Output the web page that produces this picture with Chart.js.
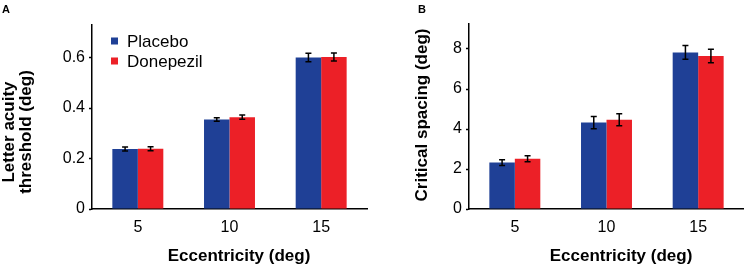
<!DOCTYPE html>
<html>
<head>
<meta charset="utf-8">
<script src="https://cdn.jsdelivr.net/npm/chart.js@4.4.1/dist/chart.umd.min.js"></script>
<style>
  body { margin: 0; background: #fff; }
  #wrap { display: flex; width: 744px; height: 265px; }
  canvas { display: block; }
</style>
</head>
<body>
<div id="wrap">
  <canvas id="chartA" width="372" height="265"></canvas>
  <canvas id="chartB" width="372" height="265"></canvas>
</div>
<script>
/* Data. */
const eccentricity = ["5", "10", "15"]
const seriesNames = ["Placebo", "Donepezil"]

const acuityPlacebo = [0.238, 0.355, 0.600]
const acuityPlaceboErr = [0.008, 0.007, 0.017]
const acuityDonepezil = [0.239, 0.364, 0.602]
const acuityDonepezilErr = [0.008, 0.008, 0.016]

const spacingPlacebo = [2.32, 4.32, 7.83]
const spacingPlaceboErr = [0.14, 0.31, 0.34]
const spacingDonepezil = [2.51, 4.46, 7.65]
const spacingDonepezilErr = [0.15, 0.30, 0.34]

const acuityTicks = [0, 0.2, 0.4, 0.6]
const spacingTicks = [0, 2, 4, 6, 8]

const blue = "rgb(31, 64, 150)"
const red = "rgb(236, 32, 39)"
const fontName = "'Liberation Sans', Arial, Helvetica, sans-serif"

/* Draws error bars, legend, axis titles and panel letter. */
const extrasPlugin = {
  id: "extras",
  afterDatasetsDraw(chart, args, opts) {
    const ctx = chart.ctx
    const yScale = chart.scales.y
    ctx.save()
    ctx.strokeStyle = "#000"
    ctx.lineWidth = 1.5
    chart.data.datasets.forEach((ds, i) => {
      const meta = chart.getDatasetMeta(i)
      meta.data.forEach((bar, j) => {
        const v = ds.data[j]
        const e = ds.errors[j]
        const yTop = yScale.getPixelForValue(v + e)
        const yBot = yScale.getPixelForValue(v - e)
        ctx.beginPath()
        ctx.moveTo(bar.x, yTop)
        ctx.lineTo(bar.x, yBot)
        ctx.moveTo(bar.x - 3, yTop)
        ctx.lineTo(bar.x + 3, yTop)
        ctx.moveTo(bar.x - 3, yBot)
        ctx.lineTo(bar.x + 3, yBot)
        ctx.stroke()
      })
    })
    ctx.restore()
  },
  afterDraw(chart, args, opts) {
    const ctx = chart.ctx
    ctx.save()
    ctx.fillStyle = "#000"

    /* Legend. */
    ctx.font = "17px " + fontName
    ctx.textBaseline = "middle"
    ctx.textAlign = "left"
    chart.data.datasets.forEach((ds, i) => {
      const y = opts.legendY + i * 20
      ctx.fillStyle = ds.backgroundColor
      ctx.fillRect(opts.legendX, y - 3.5, 7, 7)
      ctx.fillStyle = "#000"
      ctx.fillText(ds.label, opts.legendX + 16, y + 1)
    })

    /* Panel letter. */
    ctx.font = "bold 11px " + fontName
    ctx.textBaseline = "alphabetic"
    ctx.fillText(opts.letter, opts.letterX, 13)

    /* X axis title. */
    ctx.font = "bold 17px " + fontName
    ctx.textAlign = "center"
    ctx.fillText("Eccentricity (deg)", opts.xTitleX, 261)

    /* Y axis title. */
    ctx.translate(opts.yTitleX, opts.yTitleY)
    ctx.rotate(-Math.PI / 2)
    ctx.textBaseline = "middle"
    const n = opts.yTitle.length
    opts.yTitle.forEach((line, i) => {
      ctx.fillText(line, 0, (i - (n - 1) / 2) * 17)
    })
    ctx.restore()
  }
}

const makeChart = (id, cfg) => {
  const ctx = document.getElementById(id).getContext("2d")
  return new Chart(ctx, {
    type: "bar",
    data: {
      labels: eccentricity,
      datasets: [{
        label: seriesNames[0],
        data: cfg.placebo,
        errors: cfg.placeboErr,
        backgroundColor: blue,
        borderWidth: 0
      }, {
        label: seriesNames[1],
        data: cfg.donepezil,
        errors: cfg.donepezilErr,
        backgroundColor: red,
        borderWidth: 0
      }]
    },
    options: {
      responsive: false,
      animation: false,
      categoryPercentage: 0.556,
      barPercentage: 1,
      layout: {
        padding: { top: cfg.top, right: cfg.right, left: 0, bottom: 0 }
      },
      scales: {
        x: {
          grid: { display: false, drawTicks: false },
          border: { display: true, color: "#000", width: 1.5 },
          ticks: {
            color: "#000",
            padding: 9,
            font: { family: fontName, size: 16 }
          },
          afterFit: scale => { scale.height = 56 }
        },
        y: {
          min: 0,
          max: cfg.max,
          grid: {
            drawOnChartArea: false,
            drawTicks: true,
            tickLength: 3,
            color: "#000",
            tickWidth: 1.5
          },
          border: { display: true, color: "#000", width: 1.5 },
          afterBuildTicks: scale => {
            scale.ticks = cfg.ticks.map(v => ({ value: v }))
          },
          ticks: {
            color: "#000",
            padding: 4,
            font: { family: fontName, size: 16 },
            callback: v => cfg.format(v)
          },
          afterFit: scale => { scale.width = cfg.left }
        }
      },
      plugins: {
        legend: { display: false },
        tooltip: { enabled: false },
        extras: cfg.extras
      }
    },
    plugins: [extrasPlugin]
  })
}

makeChart("chartA", {
  placebo: acuityPlacebo,
  placeboErr: acuityPlaceboErr,
  donepezil: acuityDonepezil,
  donepezilErr: acuityDonepezilErr,
  ticks: acuityTicks,
  max: 0.729,
  top: 25,
  right: 5,
  left: 92,
  format: v => v === 0 ? "0" : v.toFixed(1),
  extras: {
    legendX: 111,
    legendY: 41,
    letter: "A",
    letterX: 2,
    xTitleX: 239,
    yTitleX: 18,
    yTitleY: 132,
    yTitle: ["Letter acuity", "threshold (deg)"]
  }
})

makeChart("chartB", {
  placebo: spacingPlacebo,
  placeboErr: spacingPlaceboErr,
  donepezil: spacingDonepezil,
  donepezilErr: spacingDonepezilErr,
  ticks: spacingTicks,
  max: 9.25,
  top: 24,
  right: 0,
  left: 97,
  format: v => String(v),
  extras: {
    legendX: 494,
    legendY: 40,
    letter: "B",
    letterX: 46,
    xTitleX: 249,
    yTitleX: 50,
    yTitleY: 115,
    yTitle: ["Critical spacing (deg)"]
  }
})
</script>
</body>
</html>
